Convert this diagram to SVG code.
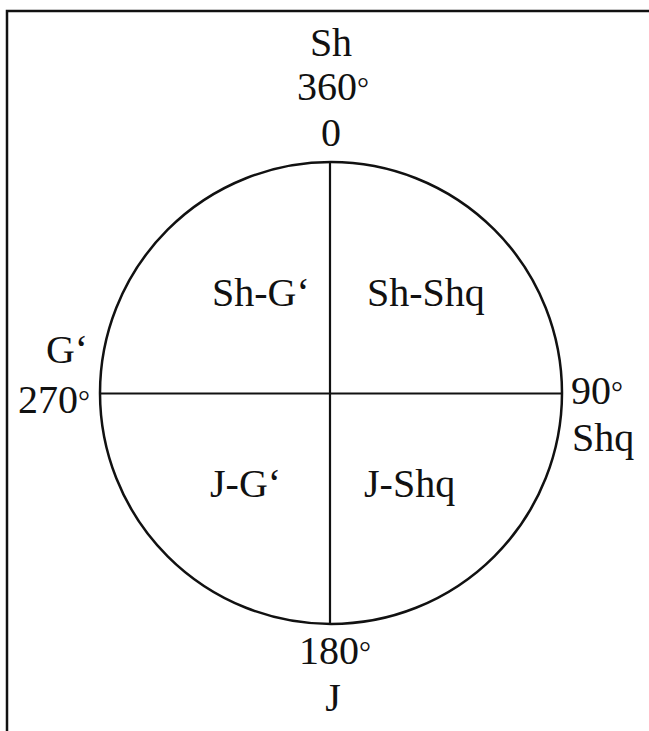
<svg xmlns="http://www.w3.org/2000/svg" width="649" height="731" viewBox="0 0 649 731">
<style>
text{font-family:"Liberation Serif","Times New Roman",serif;font-size:40px;fill:#111;}
.m{text-anchor:middle;}
.d{font-size:30px;}
.ln{stroke:#111;fill:none;}
</style>
<rect width="649" height="731" fill="#fff"/>
<g id="frame" class="ln" stroke-width="2.5">
<polyline points="7,731 7,11 649,11"/>
</g>
<g id="circle" class="ln" stroke-width="2.5">
<circle cx="331" cy="393" r="231"/>
</g>
<g id="connectors" class="ln" stroke-width="2.2">
<line x1="330" y1="162" x2="330" y2="624"/>
<line x1="100" y1="393.5" x2="562" y2="393.5"/>
</g>
<g id="top-label">
<text class="m" x="331" y="56">Sh</text>
<text class="m" x="333" y="100">360<tspan class="d" dy="-2">°</tspan></text>
<text class="m" x="331" y="146">0</text>
</g>
<g id="left-label">
<text class="m" x="67" y="363">G‘</text>
<text x="18" y="413">270<tspan class="d" dy="-2">°</tspan></text>
</g>
<g id="right-label">
<text x="571" y="404">90<tspan class="d" dy="-2">°</tspan></text>
<text x="572" y="451">Shq</text>
</g>
<g id="bottom-label">
<text x="299" y="664">180<tspan class="d" dy="-2">°</tspan></text>
<text class="m" x="333" y="711">J</text>
</g>
<g id="q1"><text x="212" y="306">Sh-G‘</text></g>
<g id="q2"><text x="367" y="306">Sh-Shq</text></g>
<g id="q3"><text x="210" y="497">J-G‘</text></g>
<g id="q4"><text x="364" y="497">J-Shq</text></g>
</svg>
